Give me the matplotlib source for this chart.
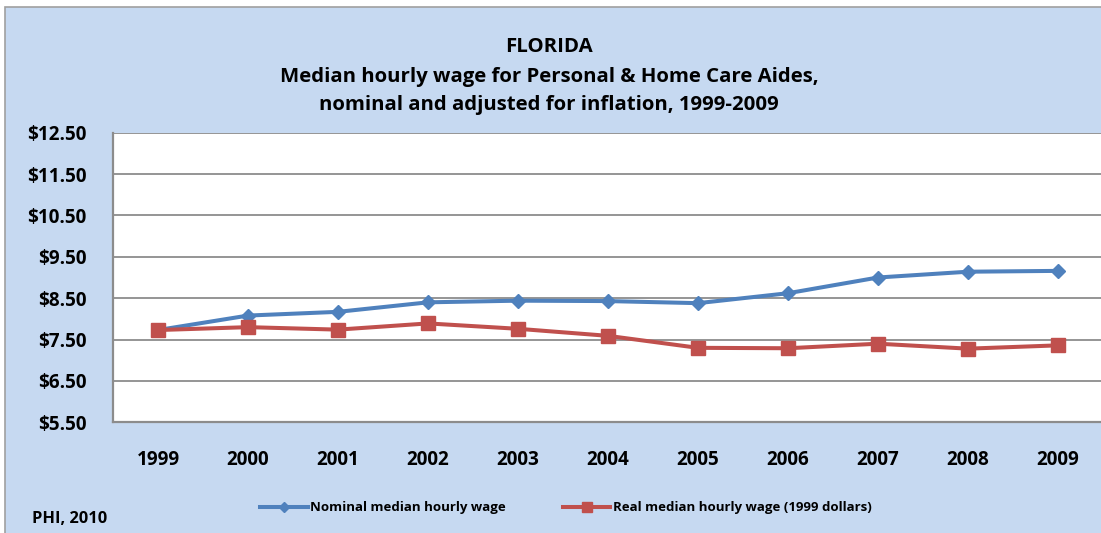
import matplotlib
matplotlib.use("Agg")
import matplotlib.pyplot as plt
from matplotlib.patches import Rectangle
from matplotlib.ticker import FuncFormatter
from matplotlib.lines import Line2D

years = ["1999", "2000", "2001", "2002", "2003", "2004", "2005", "2006", "2007", "2008", "2009"]
nominal = [7.73, 8.08, 8.17, 8.40, 8.44, 8.43, 8.38, 8.62, 9.00, 9.14, 9.16]
real = [7.73, 7.80, 7.74, 7.89, 7.76, 7.59, 7.30, 7.29, 7.40, 7.28, 7.36]
y_ticks = [5.5, 6.5, 7.5, 8.5, 9.5, 10.5, 11.5, 12.5]
title_lines = ["FLORIDA",
               "Median hourly wage for Personal & Home Care Aides,",
               "nominal and adjusted for inflation, 1999-2009"]
series_labels = ["Nominal median hourly wage", "Real median hourly wage (1999 dollars)"]
source = "PHI, 2010"

BLUE = "#4F81BD"
RED = "#C0504D"
BG = "#C6D9F1"
GRID = "#8C8C8C"
FONT = "Open Sans"

W, H = 1101, 533
fig = plt.figure(figsize=(W / 100, H / 100), dpi=100)
fig.patch.set_facecolor("white")

# chart area background with border
fig.patches.append(Rectangle((5 / W, -0.1), 1.2, 1 - 7 / H + 0.1, transform=fig.transFigure,
                             facecolor=BG, edgecolor="#A0A0A0", linewidth=1.2, zorder=-5))

left, right, top, bottom = 113, 1103, 132.7, 422.3
ax = fig.add_axes([left / W, 1 - bottom / H, (right - left) / W, (bottom - top) / H])
ax.set_facecolor("white")

x = list(range(len(years)))
ax.plot(x, nominal, color=BLUE, lw=2.9, marker="D", ms=6.8, mec=BLUE, mfc=BLUE, zorder=3,
        solid_joinstyle="round", label=series_labels[0])
ax.plot(x, real, color=RED, lw=2.9, marker="s", ms=10.5, mec=RED, mfc=RED, zorder=4,
        solid_joinstyle="round", label=series_labels[1])

ax.set_xlim(-0.5, len(years) - 0.5)
ax.set_ylim(5.5, 12.5)
ax.set_yticks(y_ticks)
ax.yaxis.set_major_formatter(FuncFormatter(lambda v, p: f"${v:.2f}"))
ax.set_xticks(x)
ax.set_xticklabels(years)
ax.grid(axis="y", color=GRID, lw=1.3)
ax.set_axisbelow(True)
for s in ["top", "right"]:
    ax.spines[s].set_visible(False)
for s in ["left", "bottom"]:
    ax.spines[s].set_color(GRID)
    ax.spines[s].set_linewidth(1.6)
ax.tick_params(axis="both", length=0)
ax.tick_params(axis="y", pad=19)
ax.tick_params(axis="x", pad=20)
for lab in ax.get_yticklabels() + ax.get_xticklabels():
    lab.set_fontfamily(FONT)
    lab.set_fontweight("bold")
    lab.set_fontsize(13.6)

ys = [47, 77, 105]
for t, yy in zip(title_lines, ys):
    fig.text(549 / W, 1 - yy / H, t, ha="center", va="center", fontsize=14.7,
             fontweight="bold", fontfamily=FONT)

fig.text(32 / W, 1 - 519 / H, source, ha="left", va="center", fontsize=11.8,
         fontweight="bold", fontfamily=FONT)

handles = [Line2D([], [], color=BLUE, lw=2.9, marker="D", ms=5),
           Line2D([], [], color=RED, lw=2.9, marker="s", ms=6.5)]
leg = fig.legend(handles, series_labels, loc="center", bbox_to_anchor=(566 / W, 1 - 508 / H),
                 ncol=2, frameon=False, handlelength=3.6, handletextpad=0.2, columnspacing=4.3,
                 prop={"family": FONT, "weight": "bold", "size": 9.5})

fig.savefig("out.png", dpi=100, facecolor=fig.get_facecolor())
